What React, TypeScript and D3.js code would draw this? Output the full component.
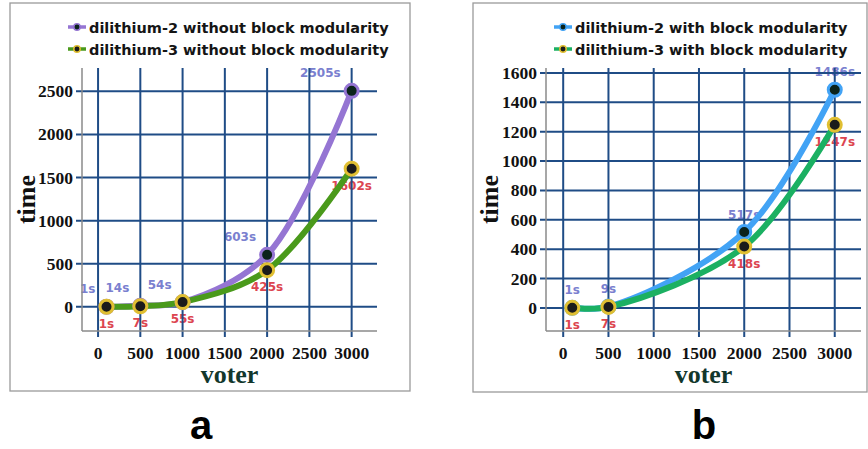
import * as d3 from "d3";

// panel a: without block modularity
const votersA = [100, 500, 1000, 2000, 3000];
const d2WithoutBlock = [1, 14, 54, 603, 2505];
const d3WithoutBlock = [1, 7, 55, 425, 1602];

// panel b: with block modularity
const votersB = [100, 500, 2000, 3000];
const d2WithBlock = [1, 9, 517, 1486];
const d3WithBlock = [1, 7, 418, 1247];

const xTicks = [0, 500, 1000, 1500, 2000, 2500, 3000];
const yTicksA = [0, 500, 1000, 1500, 2000, 2500];
const yTicksB = [0, 200, 400, 600, 800, 1000, 1200, 1400, 1600];

const legendA = ["dilithium-2 without block modularity", "dilithium-3 without block modularity"];
const legendB = ["dilithium-2 with block modularity", "dilithium-3 with block modularity"];

const GRID = "#1f4c86";
const AXIS = "#8a8a8a";
const TOP_LABEL = "#7a80cf";
const BOTTOM_LABEL = "#dc4550";
const MARK_FILL_1 = "#0b231a";
const MARK_FILL_2 = "#1b1b1b";
const GOLD = "#e0bf32";

type PanelProps = {
  box: [number, number, number, number];
  xDomain: [number, number];
  yDomain: [number, number];
  xRange: [number, number];
  yRange: [number, number];
  yTicks: number[];
  voters: number[];
  s1: number[];
  s2: number[];
  color1: string;
  color2: string;
  legend: string[];
  legendX: number;
  topLabelMode: "left" | "center";
  timeX: number;
};

function Panel(p: PanelProps) {
  const x = d3.scaleLinear().domain(p.xDomain).range(p.xRange);
  const y = d3.scaleLinear().domain(p.yDomain).range(p.yRange);
  const [x0, x1] = p.xRange;
  const [yb, yt] = p.yRange;
  const line = d3
    .line<number>()
    .x((_, i) => x(p.voters[i]))
    .y((d) => y(d))
    .curve(d3.curveCatmullRom.alpha(0.5));

  const [bx, by, bw, bh] = p.box;
  const cx = (x0 + x1) / 2;

  return (
    <g>
      <rect x={bx} y={by} width={bw} height={bh} fill="#fff" stroke="#9a9a9a" strokeWidth={1.3} />

      {/* legend */}
      {p.legend.map((t, i) => {
        const ly = 33 + i * 22;
        const col = i === 0 ? p.color1 : p.color2;
        return (
          <g key={t}>
            <line x1={p.legendX} x2={p.legendX + 18} y1={ly - 6} y2={ly - 6} stroke={col} strokeWidth={3.5} />
            <circle cx={p.legendX + 9} cy={ly - 6} r={3.2} fill={i === 0 ? MARK_FILL_1 : MARK_FILL_2} stroke={i === 0 ? col : GOLD} strokeWidth={1.5} />
            <text x={p.legendX + 21} y={ly} fontFamily="DejaVu Sans" fontWeight="bold" fontSize={14.5} fill="#151515">
              {t}
            </text>
          </g>
        );
      })}

      {/* data labels (beneath the grid) */}
      {p.s1.map((v, i) => (
        <text
          key={"t" + i}
          x={p.topLabelMode === "left" ? x(p.voters[i]) - 11 : x(p.voters[i])}
          y={y(v) - 13.5}
          textAnchor={p.topLabelMode === "left" ? "end" : "middle"}
          fontFamily="DejaVu Sans"
          fontWeight="bold"
          fontSize={12}
          fill={TOP_LABEL}
        >
          {v}s
        </text>
      ))}
      {p.s2.map((v, i) => (
        <text
          key={"b" + i}
          x={x(p.voters[i])}
          y={y(v) + 21}
          textAnchor="middle"
          fontFamily="DejaVu Sans"
          fontWeight="bold"
          fontSize={12}
          fill={BOTTOM_LABEL}
        >
          {v}s
        </text>
      ))}

      {/* grid */}
      {xTicks.map((t) => (
        <line key={"gx" + t} x1={x(t)} x2={x(t)} y1={yt} y2={yb + 6} stroke={GRID} strokeWidth={2} />
      ))}
      {p.yTicks.map((t) => (
        <line key={"gy" + t} x1={x0 - 6} x2={x1} y1={y(t)} y2={y(t)} stroke={GRID} strokeWidth={2} />
      ))}

      {/* axes */}
      <line x1={x0} x2={x0} y1={yt} y2={yb} stroke={AXIS} strokeWidth={1.5} />
      <line x1={x0} x2={x1} y1={yb} y2={yb} stroke={AXIS} strokeWidth={1.5} />

      {p.yTicks.map((t) => (
        <text key={"ly" + t} x={x0 - 9} y={y(t) + 6} textAnchor="end" fontFamily="Liberation Serif" fontWeight="bold" fontSize={17.5} fill="#111">
          {t}
        </text>
      ))}
      {xTicks.map((t) => (
        <text key={"lx" + t} x={x(t)} y={358.5} textAnchor="middle" fontFamily="Liberation Serif" fontWeight="bold" fontSize={17.5} fill="#111">
          {t}
        </text>
      ))}

      <text x={cx} y={382.5} textAnchor="middle" fontFamily="Liberation Serif" fontWeight="bold" fontSize={26} fill="#12372c">
        voter
      </text>
      <text
        transform={`translate(${p.timeX},${(yt + yb) / 2}) rotate(-90)`}
        textAnchor="middle"
        fontFamily="Liberation Serif"
        fontWeight="bold"
        fontSize={26}
        fill="#111"
      >
        time
      </text>

      {/* series */}
      <path d={line(p.s1) ?? ""} fill="none" stroke={p.color1} strokeWidth={6} strokeLinecap="round" />
      <path d={line(p.s2) ?? ""} fill="none" stroke={p.color2} strokeWidth={6} strokeLinecap="round" />
      {p.s1.map((v, i) => (
        <circle key={"m1" + i} cx={x(p.voters[i])} cy={y(v)} r={6.5} fill={MARK_FILL_1} stroke={p.color1} strokeWidth={3} />
      ))}
      {p.s2.map((v, i) => (
        <circle key={"m2" + i} cx={x(p.voters[i])} cy={y(v)} r={6.5} fill={MARK_FILL_2} stroke={GOLD} strokeWidth={3} />
      ))}
    </g>
  );
}

export default function App() {
  return (
    <svg
      width={868}
      height={449}
      viewBox="0 0 868 449"
      style={{ position: "absolute", left: 0, top: 0, background: "#fff" }}
    >
      <rect width={868} height={449} fill="#fff" />
      <Panel
        box={[10, 3, 400, 388]}
        xDomain={[-190, 3300]}
        yDomain={[-280, 2770]}
        xRange={[82, 377]}
        yRange={[331, 68]}
        yTicks={yTicksA}
        voters={votersA}
        s1={d2WithoutBlock}
        s2={d3WithoutBlock}
        color1="#9575d3"
        color2="#4a9a1b"
        legend={legendA}
        legendX={68}
        topLabelMode="left"
        timeX={35}
      />
      <Panel
        box={[473, 3, 394, 389]}
        xDomain={[-190, 3290]}
        yDomain={[-157, 1634]}
        xRange={[546, 861]}
        yRange={[331, 68]}
        yTicks={yTicksB}
        voters={votersB}
        s1={d2WithBlock}
        s2={d3WithBlock}
        color1="#42a3f5"
        color2="#1bb062"
        legend={legendB}
        legendX={554}
        topLabelMode="center"
        timeX={498}
      />
      <text x={201} y={439} textAnchor="middle" fontFamily="Liberation Sans" fontWeight="bold" fontSize={40} fill="#000">
        a
      </text>
      <text x={704} y={439} textAnchor="middle" fontFamily="Liberation Sans" fontWeight="bold" fontSize={40} fill="#000">
        b
      </text>
    </svg>
  );
}
